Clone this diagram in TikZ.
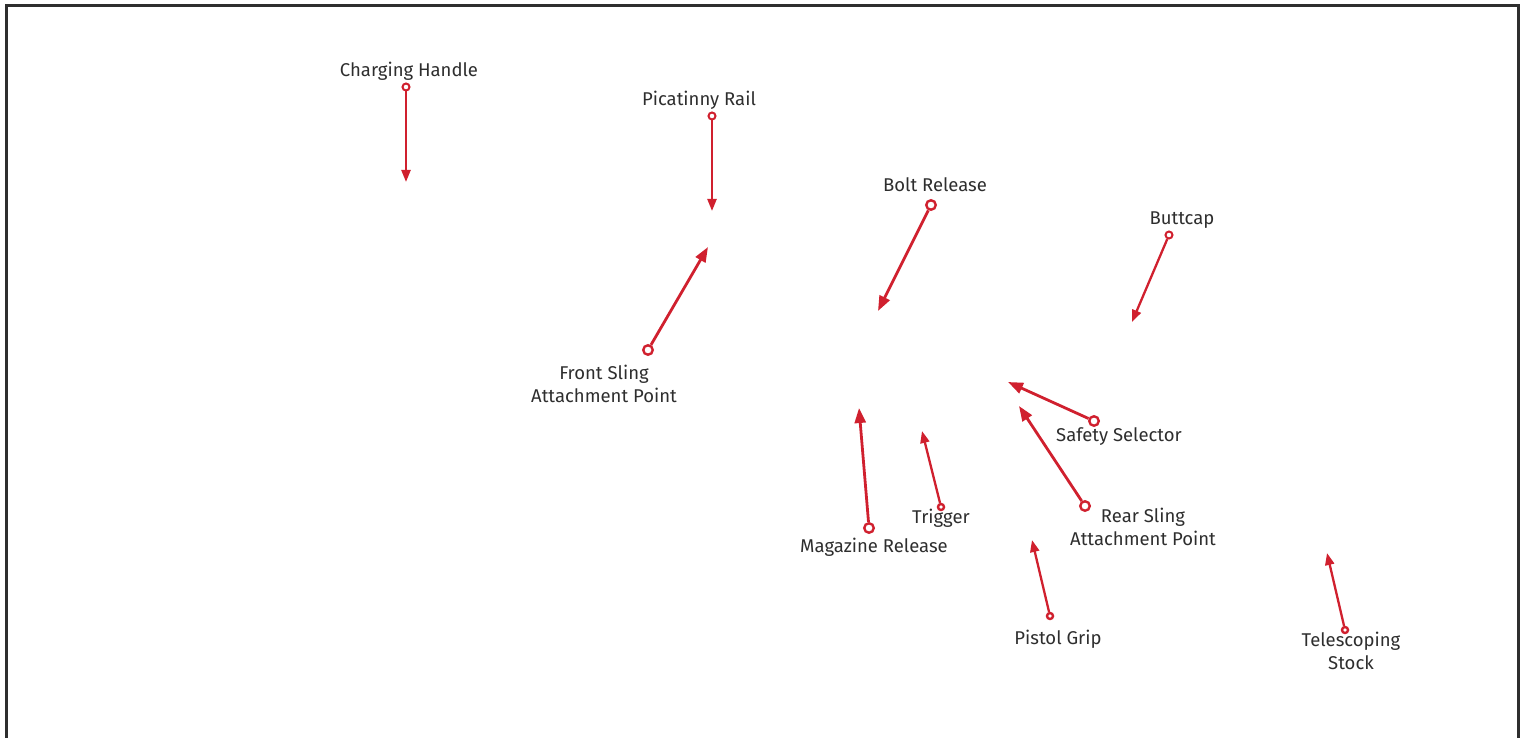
\documentclass[tikz,border=0pt]{standalone}
\usepackage{fontspec}
\setmainfont{Fira Sans}
\usetikzlibrary{arrows.meta}
\definecolor{callred}{HTML}{D0202E}
\definecolor{labelgray}{HTML}{2E2E2E}
\begin{document}
\begin{tikzpicture}[x=1pt,y=-1pt,
  lbl/.style={text=labelgray, font=\fontsize{18.5}{22.5}\selectfont, anchor=base, align=center, inner sep=0pt},
  ring/.style={draw=callred, circle, line width=2pt, fill=white, minimum size=7pt, inner sep=0pt},
  bigring/.style={ring, line width=2.4pt, minimum size=9.5pt},
  dot/.style={ring, line width=2.4pt, minimum size=6pt},
  pointer/.style={draw=callred, line width=2.3pt, -{Triangle[length=12pt,width=9pt]}},
  bigpointer/.style={draw=callred, line width=2.8pt, -{Triangle[length=15pt,width=11pt]}}]
  \useasboundingbox (0,0) rectangle (1526,738);
  % Frame
  \draw[labelgray, line width=3pt] (6,745) -- (6,6) -- (1518,6) -- (1518,745);

  % Define labels
  \node[lbl] (lch) at (409,77) {Charging Handle};
  \node[lbl] (lpr) at (699,106) {Picatinny Rail};
  \node[lbl] (lbr) at (935,192) {Bolt Release};
  \node[lbl] (lbc) at (1182,225) {Buttcap};
  \node[lbl] (lfs) at (604,402) {Front Sling\\Attachment Point};
  \node[lbl] (lss) at (1119,441) {Safety Selector};
  \node[lbl] (lmr) at (874,552) {Magazine Release};
  \node[lbl] (ltr) at (941,523) {Trigger};
  \node[lbl] (lrs) at (1143,545) {Rear Sling\\Attachment Point};
  \node[lbl] (lpg) at (1058,644) {Pistol Grip};
  \node[lbl] (lts) at (1351,669) {Telescoping\\Stock};

  % Define start points
  \node[ring] (ch) at (406,87) {};
  \node[ring] (pr) at (712,116) {};
  \node[bigring] (br) at (931,205) {};
  \node[ring] (bc) at (1169,235) {};
  \node[bigring] (fs) at (648,350) {};
  \node[bigring] (ss) at (1094,421) {};
  \node[bigring] (mr) at (869,528) {};
  \node[dot] (tr) at (941,507) {};
  \node[bigring] (rs) at (1085,506) {};
  \node[dot] (pg) at (1050,616) {};
  \node[dot] (ts) at (1345,630) {};

  % Define targets
  \coordinate (chT) at (406,182);
  \coordinate (prT) at (712,211);
  \coordinate (brT) at (878,311);
  \coordinate (bcT) at (1132,322);
  \coordinate (fsT) at (708,247);
  \coordinate (ssT) at (1008,382);
  \coordinate (mrT) at (859,408);
  \coordinate (trT) at (922,431);
  \coordinate (rsT) at (1019,406);
  \coordinate (pgT) at (1032,540);
  \coordinate (tsT) at (1327,553);

  % Draw pointers
  \draw[pointer] (ch) -- (chT);
  \draw[pointer] (pr) -- (prT);
  \draw[bigpointer] (br) -- (brT);
  \draw[pointer] (bc) -- (bcT);
  \draw[bigpointer] (fs) -- (fsT);
  \draw[bigpointer] (ss) -- (ssT);
  \draw[bigpointer] (mr) -- (mrT);
  \draw[pointer] (tr) -- (trT);
  \draw[bigpointer] (rs) -- (rsT);
  \draw[pointer] (pg) -- (pgT);
  \draw[pointer] (ts) -- (tsT);
\end{tikzpicture}
\end{document}
